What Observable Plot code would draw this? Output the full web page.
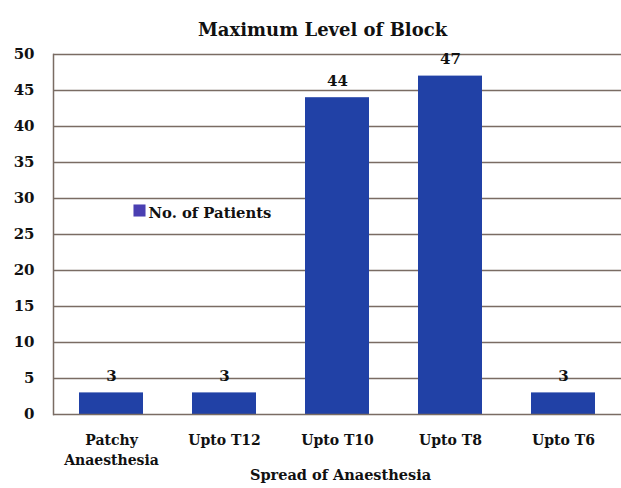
<!DOCTYPE html>
<html>
<head>
<meta charset="utf-8">
<script src="https://cdn.jsdelivr.net/npm/d3@7"></script>
<script src="https://cdn.jsdelivr.net/npm/@observablehq/plot@0.6"></script>
<style>
  body { margin: 0; background: #fff; }
</style>
</head>
<body>
<div id="chart"></div>
<script>
const categories = ["Patchy\nAnaesthesia", "Upto T12", "Upto T10", "Upto T8", "Upto T6"];
const values = [3, 3, 44, 47, 3];
const yTicks = [0, 5, 10, 15, 20, 25, 30, 35, 40, 45, 50];
const title = "Maximum Level of Block";
const xTitle = "Spread of Anaesthesia";
const seriesName = "No. of Patients";

const data = categories.map((c, i) => ({category: c, value: values[i]}));
const font = "'DejaVu Serif', 'Liberation Serif', serif";
const lineColor = "#7a6c63";
const barColor = "#2141a6";

const chart = Plot.plot({
  width: 621,
  height: 488,
  marginLeft: 53,
  marginRight: 0,
  marginTop: 54,
  marginBottom: 74,
  style: {fontFamily: font, fontWeight: "bold", fontSize: "15px", color: "#111", background: "#fff"},
  x: {domain: categories, paddingInner: 0.43, paddingOuter: 0.215, label: null},
  y: {domain: [0, 50], label: null},
  marks: [
    Plot.ruleY(yTicks.filter(d => d > 0), {stroke: lineColor, strokeWidth: 1.3}),
    Plot.barY(data, {x: "category", y: "value", fill: barColor}),
    Plot.ruleY([0], {stroke: lineColor, strokeWidth: 1.5}),
    Plot.frame({anchor: "left", stroke: lineColor, strokeWidth: 1.5}),
    Plot.axisY({ticks: yTicks, tickSize: 0, tickPadding: 19, label: null, fontSize: 15}),
    Plot.axisX({tickSize: 0, tickPadding: 17, label: null, fontSize: 14, lineHeight: 1.4}),
    Plot.text(data, {x: "category", y: "value", text: d => String(d.value), dy: -17, fontSize: 15, fill: "#111"}),
    Plot.text([title], {frameAnchor: "top", dx: -15, dy: -31, fontSize: 18, fill: "#111"}),
    Plot.text([xTitle], {frameAnchor: "bottom", dx: 3, dy: 65, fontSize: 14.5, fill: "#111"}),
    Plot.dot([seriesName], {frameAnchor: "top-left", dx: 86, dy: 156, symbol: "square", r: 6.8, fill: "#4a3fb2", stroke: "none"}),
    Plot.text([seriesName], {frameAnchor: "top-left", dx: 95, dy: 153, textAnchor: "start", fontSize: 14.8, fill: "#111"})
  ]
});
document.getElementById("chart").append(chart);
</script>
</body>
</html>
